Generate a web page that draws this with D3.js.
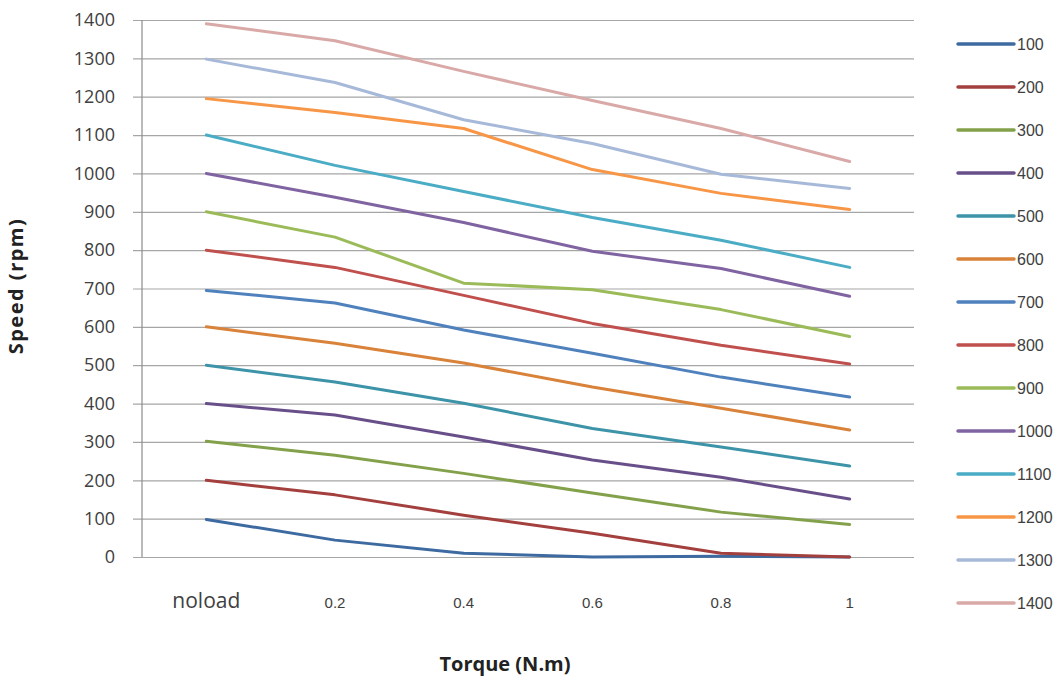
<!DOCTYPE html>
<html>
<head>
<meta charset="utf-8">
<script src="https://cdn.jsdelivr.net/npm/d3@7"></script>
<style>
  body { margin: 0; background: #fff; }
</style>
</head>
<body>
<div id="chart"></div>
<script>
/**
 * DATA
 * */
const torque = ["noload", "0.2", "0.4", "0.6", "0.8", "1"];
const seriesNames = ["100", "200", "300", "400", "500", "600", "700",
  "800", "900", "1000", "1100", "1200", "1300", "1400"];
const s100 = [98, 44, 10, 0, 2, 0];
const s200 = [200, 162, 109, 62, 10, 0];
const s300 = [302, 265, 218, 167, 117, 85];
const s400 = [400, 370, 313, 253, 208, 151];
const s500 = [500, 456, 401, 335, 287, 237];
const s600 = [600, 557, 506, 443, 388, 331];
const s700 = [695, 662, 592, 531, 469, 417];
const s800 = [800, 755, 682, 609, 552, 503];
const s900 = [900, 834, 714, 697, 645, 575];
const s1000 = [1000, 938, 872, 797, 752, 680];
const s1100 = [1100, 1021, 953, 885, 826, 755];
const s1200 = [1195, 1159, 1117, 1010, 948, 906];
const s1300 = [1298, 1237, 1140, 1078, 998, 961];
const s1400 = [1390, 1346, 1266, 1190, 1117, 1031];
const seriesValues = [s100, s200, s300, s400, s500, s600, s700,
  s800, s900, s1000, s1100, s1200, s1300, s1400];
const yTicks = d3.range(0, 1401, 100);

const colors = ["#3d6aa0", "#a3403e", "#83a14a", "#684f8a", "#3d94a9", "#d9823a",
  "#4f81bd", "#c0504d", "#9bbb59", "#8064a2", "#4bacc6", "#f79646", "#a7b9d9", "#d9a9a8"];

/**
 * LAYOUT
 * */
const width = 1064, height = 680;
const margin = { top: 20, left: 142, right: 150, bottom: 123 };

const svg = d3.select("#chart")
  .append("svg")
  .attr("width", width)
  .attr("height", height);

const x = d3.scalePoint()
  .domain(torque)
  .range([margin.left, width - margin.right])
  .padding(0.5);

const y = d3.scaleLinear()
  .domain([0, 1400])
  .range([height - margin.bottom, margin.top]);

// gridlines + y axis labels
const yAxis = d3.axisLeft(y)
  .tickValues(yTicks)
  .tickSize(-(width - margin.right - margin.left + 9))
  .tickPadding(18)
  .tickFormat(d3.format("d"));

svg.append("g")
  .attr("transform", `translate(${margin.left - 9},0)`)
  .call(yAxis)
  .call(g => g.select(".domain").remove())
  .call(g => g.selectAll(".tick line").attr("stroke", "#a6a6a6").attr("stroke-width", 1.2))
  .call(g => g.selectAll(".tick text")
    .attr("fill", "#404040")
    .style("font-family", "'Open Sans', sans-serif")
    .style("font-size", "18px"));

// vertical axis line
svg.append("line")
  .attr("x1", margin.left).attr("x2", margin.left)
  .attr("y1", y(1400)).attr("y2", y(0))
  .attr("stroke", "#8c8c8c")
  .attr("stroke-width", 1.2);

// x tick labels
svg.append("g")
  .selectAll("text")
  .data(torque)
  .join("text")
  .attr("x", d => x(d))
  .attr("y", 608)
  .attr("text-anchor", "middle")
  .attr("fill", "#404040")
  .style("font-family", (d, i) => i === 0 ? "'Open Sans', sans-serif" : "'Liberation Sans', Arial, sans-serif")
  .style("font-size", (d, i) => i === 0 ? "21px" : "15px")
  .text(d => d);

// lines
const line = d3.line()
  .x((d, i) => x(torque[i]))
  .y(d => y(d));

svg.append("g")
  .selectAll("path")
  .data(seriesValues)
  .join("path")
  .attr("d", d => line(d))
  .attr("fill", "none")
  .attr("stroke", (d, i) => colors[i])
  .attr("stroke-width", 3)
  .attr("stroke-linecap", "round")
  .attr("stroke-linejoin", "round");

// axis titles
svg.append("text")
  .attr("x", 505)
  .attr("y", 671)
  .attr("text-anchor", "middle")
  .attr("fill", "#222")
  .style("font-family", "'Open Sans', sans-serif")
  .style("font-weight", "bold")
  .style("font-size", "20px")
  .text("Torque (N.m)");

svg.append("text")
  .attr("transform", "translate(23,286) rotate(-90)")
  .attr("text-anchor", "middle")
  .attr("fill", "#222")
  .style("font-family", "'Open Sans', sans-serif")
  .style("font-weight", "bold")
  .style("font-size", "20px")
  .style("letter-spacing", "1.5px")
  .text("Speed (rpm)");

// legend
const legend = svg.append("g")
  .selectAll("g")
  .data(seriesNames)
  .join("g")
  .attr("transform", (d, i) => `translate(958,${44 + i * 43.0})`);

legend.append("line")
  .attr("x1", 0).attr("x2", 56)
  .attr("stroke", (d, i) => colors[i])
  .attr("stroke-width", 3.5)
  .attr("stroke-linecap", "round");

legend.append("text")
  .attr("x", 59)
  .attr("dy", "0.36em")
  .attr("fill", "#404040")
  .style("font-family", "'Liberation Sans', Arial, sans-serif")
  .style("font-size", "16px")
  .text(d => d);
</script>
</body>
</html>
